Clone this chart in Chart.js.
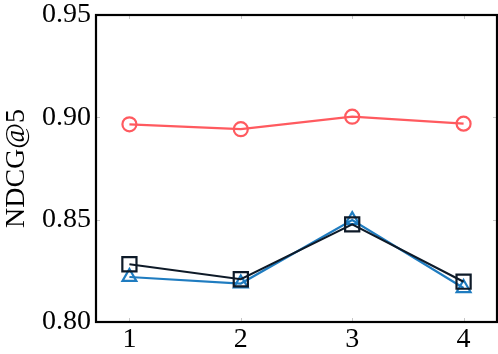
<!DOCTYPE html>
<html>
<head>
<meta charset="utf-8">
<script src="https://cdn.jsdelivr.net/npm/chart.js@4"></script>
<style>
html,body{margin:0;padding:0;background:#fff;}
#wrap{width:498px;height:354px;position:relative;}
</style>
</head>
<body>
<div id="wrap"><canvas id="c"></canvas></div>
<script>
const categories = [1, 2, 3, 4];
const seriesCircle = [0.8966, 0.8942, 0.9003, 0.8969];
const seriesSquare = [0.8282, 0.8209, 0.8477, 0.8197];
const seriesTriangle = [0.8220, 0.8188, 0.8498, 0.8166];
const yTicks = [0.80, 0.85, 0.90, 0.95];
const yTitle = 'NDCG@5';

const FONT = "'Liberation Serif', 'DejaVu Serif', serif";

const frame = {
  id: 'frame',
  beforeDatasetsDraw(chart) {
    const {ctx, chartArea: a, scales} = chart;
    ctx.save();
    ctx.strokeStyle = '#c8c8c8';
    ctx.lineWidth = 1;
    const L = 4;
    scales.x.ticks.forEach(t => {
      const px = Math.round(scales.x.getPixelForValue(t.value)) + 0.5;
      ctx.beginPath();
      ctx.moveTo(px, a.bottom); ctx.lineTo(px, a.bottom - L);
      ctx.moveTo(px, a.top); ctx.lineTo(px, a.top + L);
      ctx.stroke();
    });
    scales.y.ticks.forEach(t => {
      const py = Math.round(scales.y.getPixelForValue(t.value)) + 0.5;
      ctx.beginPath();
      ctx.moveTo(a.left, py); ctx.lineTo(a.left + L, py);
      ctx.moveTo(a.right, py); ctx.lineTo(a.right - L, py);
      ctx.stroke();
    });
    ctx.restore();
  },
  afterDatasetsDraw(chart) {
    const {ctx, chartArea: a} = chart;
    ctx.save();
    ctx.strokeStyle = '#000';
    ctx.lineWidth = 2.2;
    ctx.strokeRect(a.left, a.top, a.right - a.left, a.bottom - a.top);
    ctx.restore();
  }
};

const zeroPad = (s) => { s.paddingTop = 0; s.paddingBottom = 0; s.paddingLeft = 0; s.paddingRight = 0; };

const mk = (vals) => vals.map((v, i) => ({x: categories[i], y: v}));

new Chart(document.getElementById('c'), {
  type: 'line',
  data: {
    datasets: [
      {
        data: mk(seriesCircle),
        borderColor: '#ff5a5f',
        backgroundColor: 'rgba(0,0,0,0)',
        pointStyle: 'circle',
        pointRadius: 7,
        pointBorderWidth: 2.2,
        pointBorderColor: '#ff5a5f',
        pointBackgroundColor: 'rgba(0,0,0,0)',
        borderWidth: 2.2,
        tension: 0
      },
      {
        data: mk(seriesSquare),
        borderColor: '#0e1a28',
        backgroundColor: 'rgba(0,0,0,0)',
        pointStyle: 'rect',
        pointRadius: 10,
        pointBorderWidth: 2.2,
        pointBorderColor: '#0e1a28',
        pointBackgroundColor: 'rgba(0,0,0,0)',
        borderWidth: 2.2,
        tension: 0
      },
      {
        data: mk(seriesTriangle),
        borderColor: '#1f7cc0',
        backgroundColor: 'rgba(0,0,0,0)',
        pointStyle: 'triangle',
        pointRadius: 8,
        pointBorderWidth: 2.2,
        pointBorderColor: '#1f7cc0',
        pointBackgroundColor: 'rgba(0,0,0,0)',
        borderWidth: 2.2,
        tension: 0
      }
    ]
  },
  options: {
    responsive: true,
    maintainAspectRatio: false,
    animation: false,
    layout: {autoPadding: false, padding: {left: 0, right: 1, top: 15, bottom: 0}},
    plugins: {legend: {display: false}, tooltip: {enabled: false}},
    scales: {
      x: {
        type: 'linear',
        min: 0.7, max: 4.3,
        afterBuildTicks: (s) => { s.ticks = categories.map(v => ({value: v})); },
        afterFit: (s) => { s.height = 32; zeroPad(s); },
        grid: {display: false, drawTicks: false},
        border: {display: false},
        ticks: {
          color: '#000',
          font: {family: FONT, size: 28},
          padding: 1,
          maxRotation: 0,
          callback: (v) => String(v)
        }
      },
      y: {
        min: 0.8, max: 0.95,
        afterBuildTicks: (s) => { s.ticks = yTicks.map(v => ({value: v})); },
        afterFit: (s) => { s.width = 96; zeroPad(s); },
        grid: {display: false, drawTicks: false},
        border: {display: false},
        ticks: {
          color: '#000',
          font: {family: FONT, size: 28},
          padding: 5,
          callback: (v) => Number(v).toFixed(2)
        },
        title: {
          display: true,
          text: yTitle,
          color: '#000',
          font: {family: FONT, size: 28},
          padding: {top: 0, bottom: 0}
        }
      }
    }
  },
  plugins: [frame]
});
</script>
</body>
</html>
